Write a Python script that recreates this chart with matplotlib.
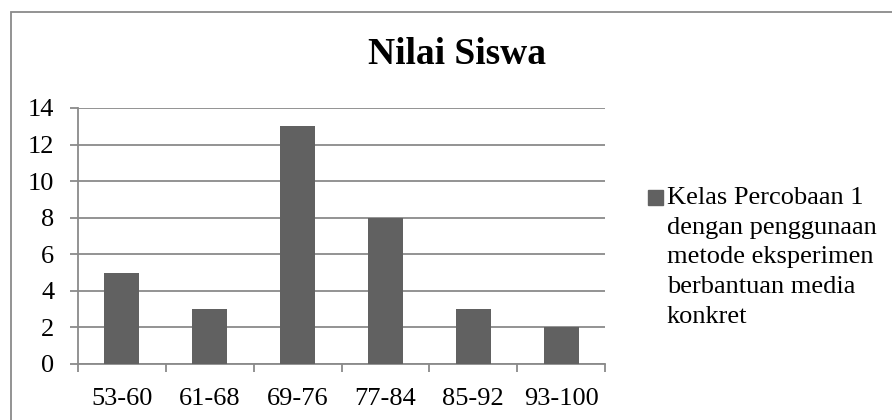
import matplotlib.pyplot as plt
from matplotlib.patches import Rectangle

# score ranges and number of students in each
ranges = ['53-60', '61-68', '69-76', '77-84', '85-92', '93-100']
counts = [5, 3, 13, 8, 3, 2]
series_name = 'Kelas Percobaan 1\ndengan penggunaan\nmetode eksperimen\nberbantuan media\nkonkret'

plt.rcParams['font.family'] = ['Liberation Serif', 'DejaVu Serif']
bar_color = '#616161'
line_color = '#8a8a8a'

W, H = 892, 420
fig = plt.figure(figsize=(W / 100, H / 100), dpi=100)

# outer frame of the chart
fig.patches.append(Rectangle((11 / W, -0.1), 1.0, (H - 12) / H + 0.1,
                             transform=fig.transFigure, fill=False,
                             edgecolor=line_color, linewidth=1.3))

ax = fig.add_axes([78 / W, (H - 364) / H, (605 - 78) / W, (364 - 108) / H])
x = list(range(len(ranges)))
ax.bar(x, counts, width=0.4, color=bar_color, zorder=3)

ax.set_xlim(-0.5, len(ranges) - 0.5)
ax.set_ylim(0, 14)
ax.set_yticks(range(0, 15, 2))
ax.set_xticks(x)
ax.set_xticklabels(ranges, fontsize=19)
ax.set_xticks([i - 0.5 for i in range(len(ranges) + 1)], minor=True)
ax.tick_params(axis='x', which='major', length=0, pad=17)
ax.tick_params(axis='x', which='minor', length=5.5, width=1.3, color=line_color)
ax.tick_params(axis='y', length=6, width=1.3, color=line_color, labelsize=19, pad=11)
ax.grid(axis='y', color=line_color, linewidth=1.3, zorder=0)

for side in ['top', 'right']:
    ax.spines[side].set_visible(False)
for side in ['left', 'bottom']:
    ax.spines[side].set_color(line_color)
    ax.spines[side].set_linewidth(1.3)

fig.text(457 / W, (H - 55) / H, 'Nilai Siswa', fontsize=27, fontweight='bold',
         ha='center', va='center')

# legend entry: square swatch next to the first line of the label
fig.patches.append(Rectangle((648 / W, (H - 205) / H), 15 / W, 15 / H,
                             transform=fig.transFigure, color=bar_color))
fig.text(667 / W, (H - 187) / H, series_name, fontsize=19, ha='left', va='top',
         linespacing=1.45)

fig.savefig('out.png', dpi=100)
